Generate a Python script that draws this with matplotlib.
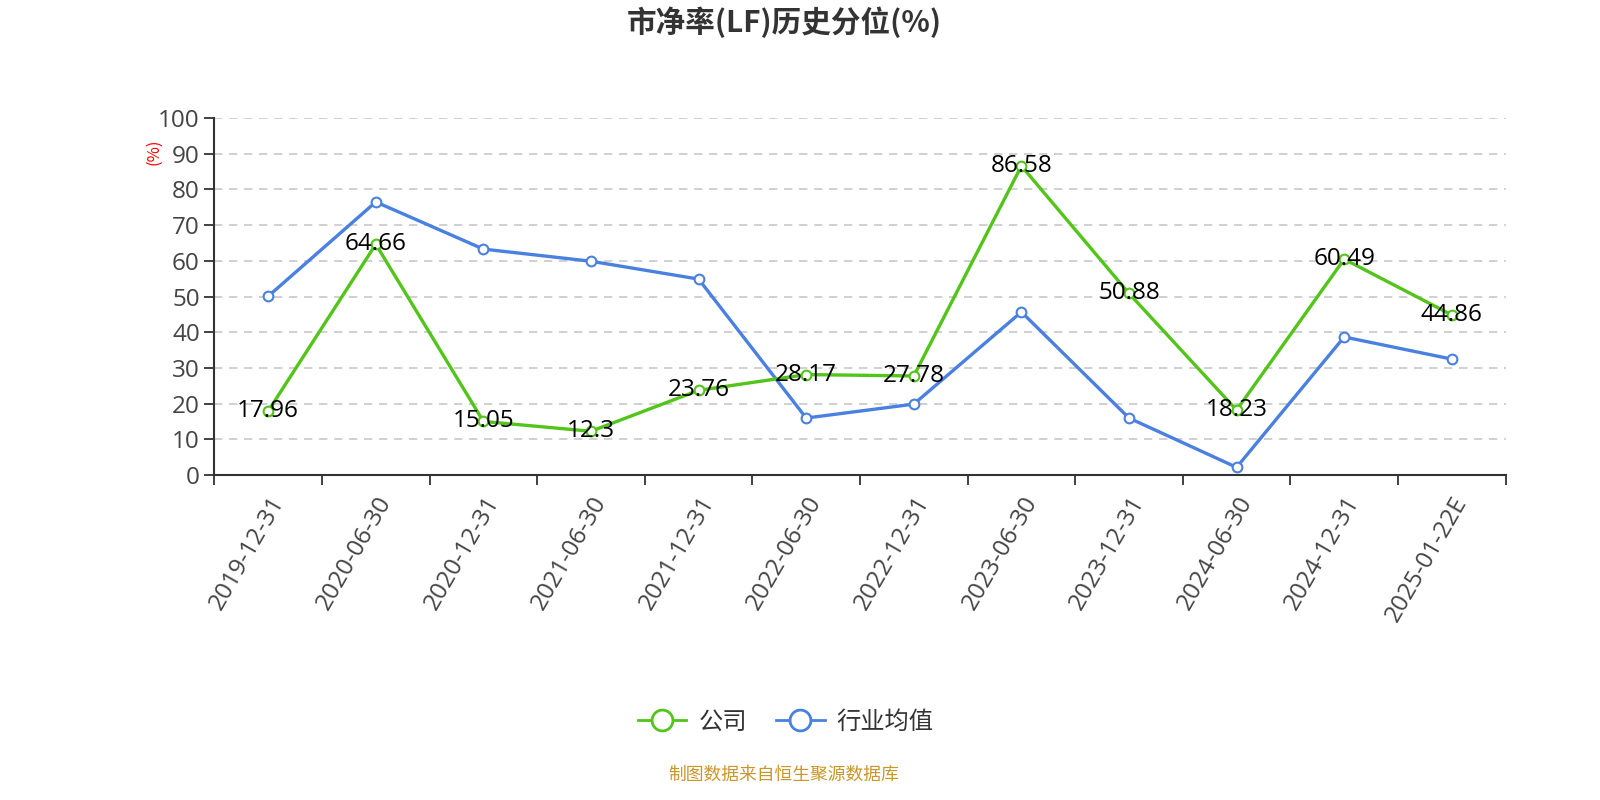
import matplotlib
matplotlib.use("Agg")
from matplotlib import pyplot as plt
from matplotlib.lines import Line2D

plt.rcParams['font.family'] = ['Noto Sans CJK SC', 'DejaVu Sans']
num_font = ['Open Sans', 'Noto Sans CJK SC']

dates = ['2019-12-31', '2020-06-30', '2020-12-31', '2021-06-30', '2021-12-31',
         '2022-06-30', '2022-12-31', '2023-06-30', '2023-12-31', '2024-06-30',
         '2024-12-31', '2025-01-22E']
company = [17.96, 64.66, 15.05, 12.3, 23.76, 28.17, 27.78, 86.58, 50.88, 18.23, 60.49, 44.86]
industry = [50.1, 76.5, 63.3, 59.9, 54.9, 16.0, 19.9, 45.7, 16.0, 2.2, 38.7, 32.5]
yticks = list(range(0, 101, 10))

green = '#52c41a'
blue = '#4a80e0'

fig = plt.figure(figsize=(16, 8), dpi=100)
ax = fig.add_axes([0.134, 0.406, 0.807, 0.4465])

x = list(range(len(dates)))
ax.plot(x, industry, color=blue, lw=2.4, marker='o', ms=7,
        mfc='white', mec=blue, mew=1.5, zorder=3)
ax.plot(x, company, color=green, lw=2.4, marker='o', ms=7,
        mfc='white', mec=green, mew=1.5, zorder=4)
for xi, v in zip(x, company):
    ax.text(xi, v, f'{v:g}', ha='center', va='center', fontsize=17.5,
            family=num_font, color='black', zorder=5)

ax.set_xlim(-0.5, len(dates) - 0.5)
ax.set_ylim(0, 100)
ax.set_yticks(yticks)
ax.set_xticks(x)
ax.set_xticklabels(dates, rotation=60, ha='right', rotation_mode='anchor')
ax.set_xticks([i - 0.5 for i in range(len(dates) + 1)], minor=True)
ax.tick_params(axis='x', which='major', length=0, pad=12, labelsize=17.5, labelcolor='#444444')
ax.tick_params(axis='x', which='minor', length=7, width=1.3, color='#333333')
ax.tick_params(axis='y', length=7, width=1.3, color='#333333', labelsize=17.5, labelcolor='#444444')
for lbl in ax.get_xticklabels() + ax.get_yticklabels():
    lbl.set_family(num_font)

for t in yticks[1:]:
    ax.axhline(t, color='#c8c8c8', lw=1.2, ls=(0, (5, 4)), zorder=1)

for s in ['top', 'right']:
    ax.spines[s].set_visible(False)
for s in ['left', 'bottom']:
    ax.spines[s].set_color('#333333')
    ax.spines[s].set_linewidth(1.5)

ax.text(-0.047, 0.905, '(%)', transform=ax.transAxes, rotation=90,
        ha='center', va='center', color='red', fontsize=12)

fig.text(0.49, 0.972, '市净率(LF)历史分位(%)', ha='center', va='center',
         fontsize=21.3, fontweight='bold', color='#333333')

handles = [
    Line2D([], [], color=green, lw=2, marker='o', ms=15, mfc='white', mec=green, mew=2),
    Line2D([], [], color=blue, lw=2, marker='o', ms=15, mfc='white', mec=blue, mew=2),
]
fig.legend(handles, ['公司', '行业均值'], loc='center', bbox_to_anchor=(0.491, 0.098),
           ncol=2, frameon=False, fontsize=17.5, handlelength=2.0, columnspacing=1.2,
           handletextpad=0.5, labelcolor='#333333')

fig.text(0.49, 0.032, '制图数据来自恒生聚源数据库', ha='center', va='center',
         fontsize=12.8, color='#c9962a')

fig.savefig('out.png', dpi=100)
